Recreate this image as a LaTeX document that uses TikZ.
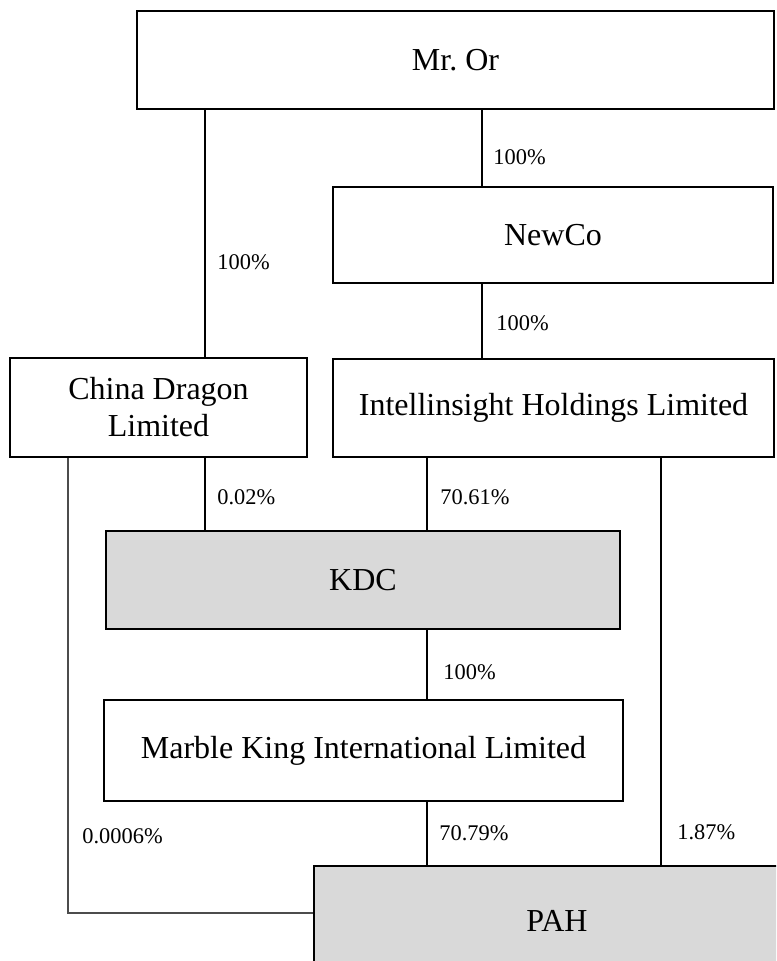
\documentclass[tikz,border=0pt]{standalone}
\usepackage{fontspec}
\setmainfont{Liberation Serif}
\usetikzlibrary{positioning}
\definecolor{boxgray}{HTML}{D9D9D9}
\tikzset{
  entity/.style={draw, line width=1.1pt, rectangle, inner sep=0pt, align=center,
                 font=\fontsize{16}{18.5}\selectfont},
  share/.style={anchor=west, inner sep=0pt, font=\fontsize{11.2}{13}\selectfont},
  link/.style={line width=0.9pt}
}
\begin{document}
\begin{tikzpicture}[x=0.5pt, y=-0.5pt]
  \clip (0,0) rectangle (776,961);

  \node [entity, minimum width=318.5pt, minimum height=49pt]  at (455.5,60)  (MrOr)   {Mr.\ Or};
  \node [entity, minimum width=220pt, minimum height=48pt]    at (553,235)   (NewCo)  {NewCo};
  \node [entity, minimum width=148.5pt, minimum height=49.5pt] at (158.5,407.5) (China) {China Dragon\\Limited};
  \node [entity, minimum width=220.5pt, minimum height=49pt]  at (553.5,408) (Intel)  {Intellinsight Holdings Limited};
  \node [entity, fill=boxgray, minimum width=257pt, minimum height=49pt] at (363,580) (KDC) {KDC};
  \node [entity, minimum width=259.5pt, minimum height=50.5pt] at (363.5,750.5) (Marble) {Marble King International Limited};
  \node [entity, fill=boxgray, minimum width=243pt, minimum height=55pt] at (557,921) (PAH) {PAH};

  % columns of the connectors
  \coordinate (colA) at (205,0);
  \coordinate (colB) at (482,0);
  \coordinate (colC) at (427,0);
  \coordinate (colD) at (661,0);
  \coordinate (colE) at (68,0);
  \coordinate (rowE) at (0,913);

  \draw [link] (MrOr.south -| colA)   -- (China.north -| colA);
  \draw [link] (MrOr.south -| colB)   -- (NewCo.north -| colB);
  \draw [link] (NewCo.south -| colB)  -- (Intel.north -| colB);
  \draw [link] (China.south -| colA)  -- (KDC.north -| colA);
  \draw [link] (Intel.south -| colC)  -- (KDC.north -| colC);
  \draw [link] (KDC.south -| colC)    -- (Marble.north -| colC);
  \draw [link] (Marble.south -| colC) -- (PAH.north -| colC);
  \draw [link] (Intel.south -| colD)  -- (PAH.north -| colD);
  \draw [line width=0.8pt, black!70] (China.south -| colE) -- (rowE -| colE) -- (PAH.west |- rowE);

  \node [share] at (493,157) {100\%};
  \node [share] at (217,262) {100\%};
  \node [share] at (496,323) {100\%};
  \node [share] at (217,497) {0.02\%};
  \node [share] at (440,497) {70.61\%};
  \node [share] at (443,672) {100\%};
  \node [share] at (82,836)  {0.0006\%};
  \node [share] at (439,833) {70.79\%};
  \node [share] at (677,832) {1.87\%};
\end{tikzpicture}
\end{document}
